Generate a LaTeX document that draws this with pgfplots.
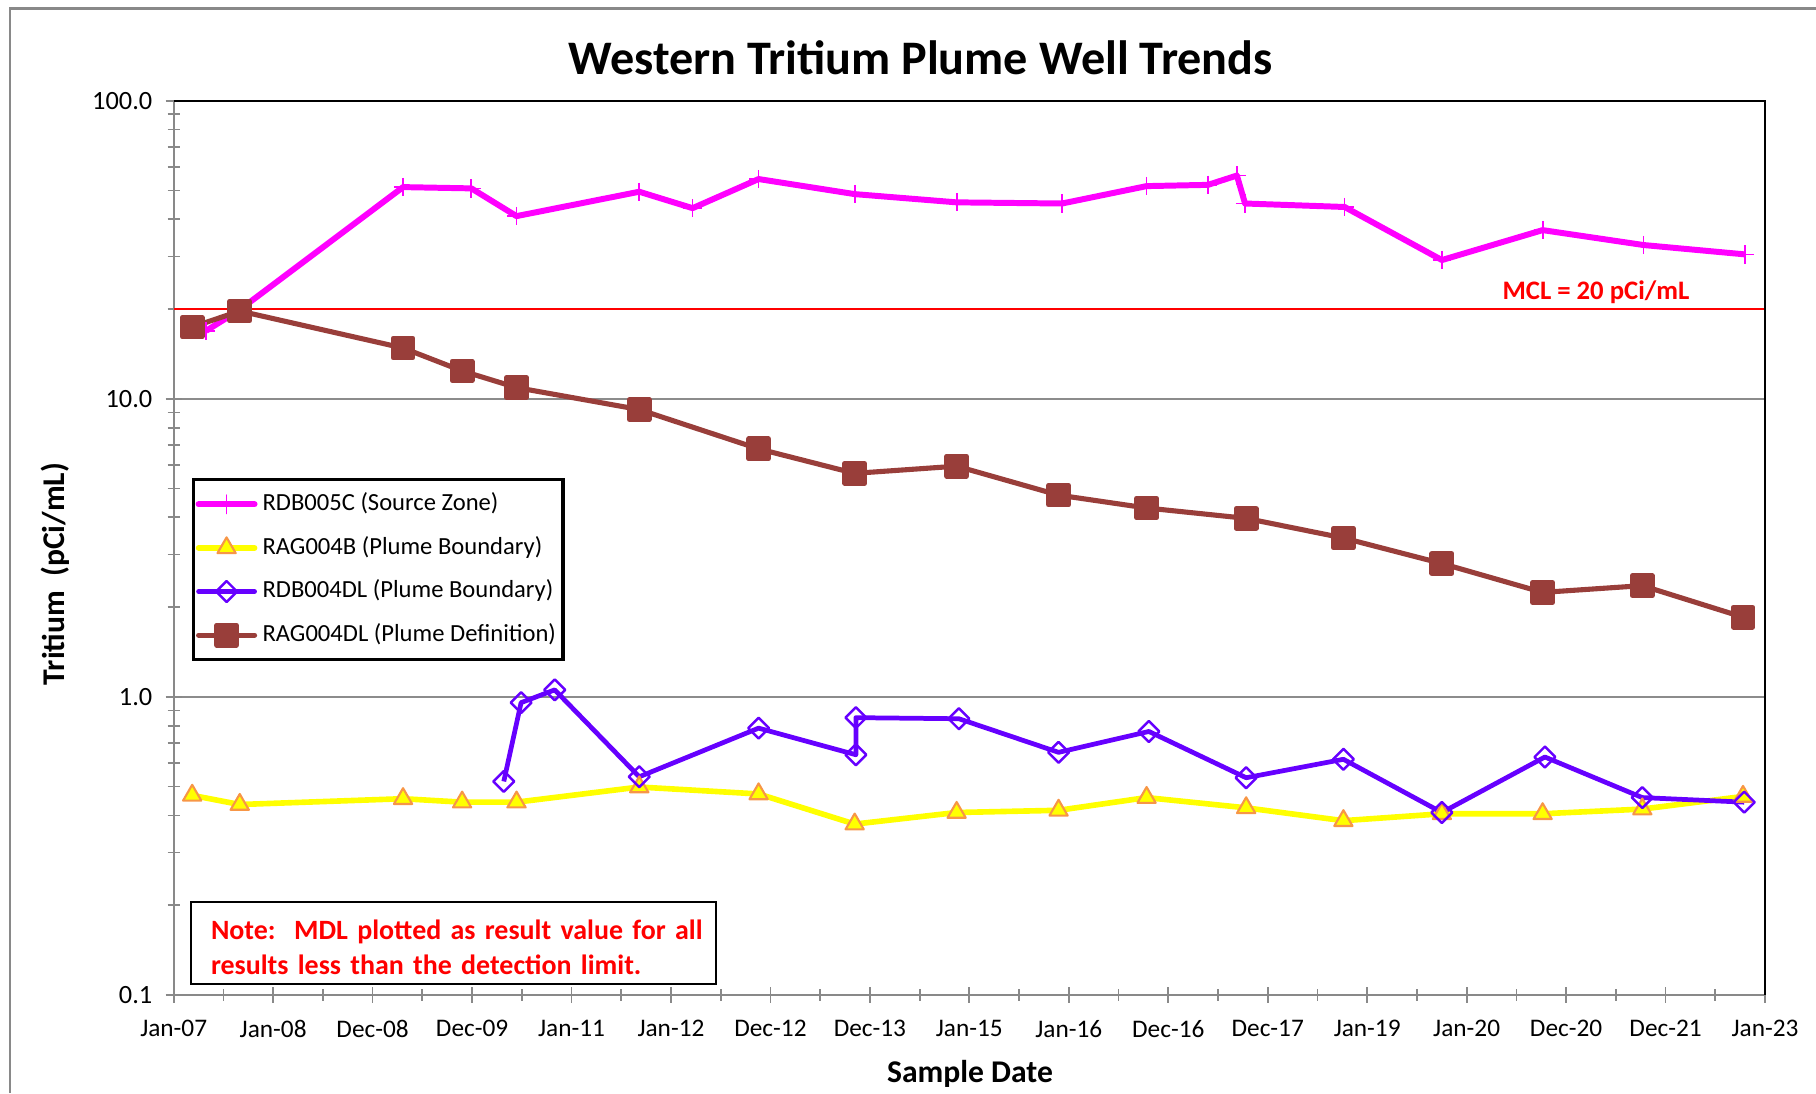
\documentclass[border=0pt]{standalone}
\usepackage{fontspec}
\setmainfont{Carlito}
\usepackage{pgfplots}
\pgfplotsset{compat=1.18}
\definecolor{magentaL}{HTML}{FF00FF}
\definecolor{yellowL}{HTML}{FFFF00}
\definecolor{orangeE}{HTML}{F79646}
\definecolor{purpleL}{HTML}{6600FF}
\definecolor{brownL}{HTML}{993E3A}
\definecolor{gridgray}{HTML}{8C8C8C}
\definecolor{framegray}{HTML}{898989}
\begin{document}
\begin{tikzpicture}
\useasboundingbox (0,0) rectangle (181.6mm,109.3mm);
\draw[framegray, line width=0.7pt] (1.0mm,0) -- (1.0mm,108.45mm) -- (181.6mm,108.45mm);
\begin{axis}[
  at={(17.37mm,9.82mm)}, anchor=south west,
  scale only axis, width=159.13mm, height=89.41mm,
  xmin=0, xmax=16, ymin=0.1, ymax=100, ymode=log,
  axis x line*=bottom, axis y line*=left,
  axis line style={framegray, line width=0.65pt},
  xtick={0,...,16},
  xticklabels={Jan-07,Jan-08,Dec-08,Dec-09,Jan-11,Jan-12,Dec-12,Dec-13,Jan-15,Jan-16,Dec-16,Dec-17,Jan-19,Jan-20,Dec-20,Dec-21,Jan-23},
  minor x tick num=1,
  ytick={0.1,1,10,100}, yticklabels={0.1,1.0,10.0,100.0},
  tick align=center,
  major tick length=1.6mm, minor tick length=1.2mm,
  every tick/.style={framegray, line width=0.5pt},
  ymajorgrids,
  major grid style={gridgray, line width=0.65pt},
  xticklabel style={font=\fontsize{7.2}{8}\selectfont, anchor=center, yshift=-2.6mm},
  yticklabel style={font=\fontsize{7.5}{8}\selectfont, anchor=east, xshift=-0.1mm},
  legend style={at={(0.0115,0.578)}, anchor=north west, draw=black, line width=0.9pt,
    font=\fontsize{7}{8.4}\selectfont, row sep=0.63mm, cells={anchor=west}, inner xsep=0.2mm, inner ysep=0.6mm,
    nodes={inner xsep=0.5mm}},
  legend image code/.code={
    \draw[mark repeat=2,mark phase=2,line cap=round]
      plot coordinates {(0cm,0cm) (0.28cm,0cm) (0.56cm,0cm)};},
  clip=false,
]
\addplot[red, line width=0.7pt, forget plot] coordinates {(0,20) (16,20)};
\addplot[magentaL, line width=1.7pt, line join=round, mark=+, mark size=2.6pt, mark options={line width=0.5pt}] coordinates {
(0.326,16.9) (0.664,19.9) (2.306,51.3) (2.993,50.8) (3.447,41.0) (4.681,49.5) (5.217,43.6) (5.881,54.6) (6.847,48.6) (7.872,45.6) (8.932,45.2) (9.782,51.7) (10.399,52.2) (10.690,56.1) (10.772,45.2) (11.773,44.0) (12.751,29.2) (13.764,36.8) (14.777,32.8) (15.802,30.5)};
\addlegendentry{RDB005C (Source Zone)}
\addplot[yellowL, line width=1.6pt, line join=round, mark=triangle*, mark size=3.0pt, mark options={fill=yellowL, draw=orangeE, line width=0.6pt}] coordinates {
(0.186,0.467) (0.664,0.435) (2.306,0.455) (2.900,0.443) (3.447,0.443) (4.681,0.498) (5.881,0.472) (6.847,0.374) (7.872,0.409) (8.897,0.416) (9.782,0.459) (10.783,0.424) (11.761,0.384) (12.751,0.405) (13.764,0.405) (14.766,0.420) (15.779,0.463)};
\addlegendentry{RAG004B (Plume Boundary)}
\addplot[purpleL, line width=1.35pt, line join=round, mark=square, mark size=2.1pt, mark options={rotate=45, draw=purpleL, line width=0.7pt}] coordinates {
(3.319,0.520) (3.493,0.956) (3.831,1.055) (4.681,0.539) (5.881,0.785) (6.859,0.639) (6.859,0.851) (7.895,0.844) (8.897,0.651) (9.805,0.765) (10.783,0.535) (11.761,0.617) (12.751,0.409) (13.787,0.628) (14.766,0.459) (15.791,0.443)};
\addlegendentry{RDB004DL (Plume Boundary)}
\addplot[brownL, line width=1.45pt, line join=round, mark=square*, mark size=2.8pt, mark options={fill=brownL, draw=brownL}] coordinates {
(0.186,17.4) (0.664,19.7) (2.306,14.8) (2.900,12.4) (3.447,10.9) (4.681,9.2) (5.881,6.79) (6.847,5.62) (7.872,5.94) (8.897,4.75) (9.782,4.30) (10.783,3.97) (11.761,3.41) (12.751,2.80) (13.764,2.24) (14.766,2.36) (15.779,1.85)};
\addlegendentry{RAG004DL (Plume Definition)}
\draw[black, line width=0.65pt] (rel axis cs:0,1) -- (rel axis cs:1,1) -- (rel axis cs:1,0);
\node[text=red, font=\bfseries\fontsize{7.6}{9}\selectfont] at (axis cs:14.30,22.7) {MCL = 20 pCi/mL};
\end{axis}
\node[font=\bfseries\fontsize{13.7}{16}\selectfont] at (92.06mm,103.51mm) {Western Tritium Plume Well Trends};
\node[font=\bfseries\fontsize{9}{11}\selectfont] at (97.0mm,1.95mm) {Sample Date};
\node[font=\bfseries\fontsize{9}{11}\selectfont, rotate=90] at (5.56mm,51.9mm) {Tritium\ \ (pCi/mL)};
\draw[black, line width=0.8pt] (19.1mm,10.9mm) rectangle (71.6mm,19.1mm);
\node[text width=50mm, inner sep=0pt, align=left, text=red, font=\bfseries\fontsize{7.95}{10}\selectfont] at (46.1mm,14.55mm) {Note:\ \ MDL plotted as result value for all\\results less than the detection limit.};
\end{tikzpicture}
\end{document}
